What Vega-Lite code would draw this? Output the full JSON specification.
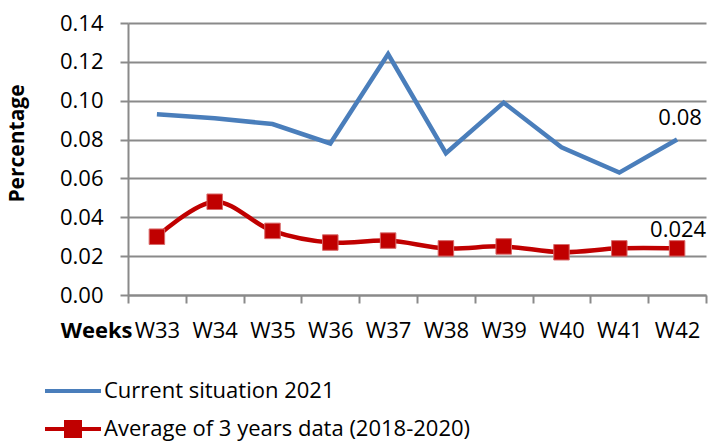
{
  "$schema": "https://vega.github.io/schema/vega-lite/v6.json",
  "autosize": "none",
  "width": 578,
  "height": 272,
  "padding": {"left": 128, "top": 23, "right": 4, "bottom": 148},
  "background": "white",
  "config": {
    "view": {"stroke": null},
    "font": "Open Sans",
    "axis": {
      "labelFont": "Open Sans",
      "labelFontSize": 22,
      "labelColor": "#000000",
      "titleFont": "Open Sans",
      "titleColor": "#000000",
      "domainColor": "#8a8a8a",
      "domainWidth": 2,
      "tickColor": "#8a8a8a",
      "tickWidth": 2,
      "gridColor": "#8a8a8a",
      "gridWidth": 2
    },
    "legend": {
      "title": null,
      "orient": "none",
      "legendX": -77,
      "legendY": 346,
      "padding": 0,
      "labelFont": "Open Sans",
      "labelFontSize": 22,
      "labelColor": "#000000",
      "labelLimit": 0,
      "labelOffset": 9,
      "rowPadding": 5,
      "symbolSize": 1600,
      "symbolStrokeWidth": 4
    }
  },
  "data": {
    "values": [
      {"week": "W33", "series": "Current situation 2021", "value": 0.093},
      {"week": "W34", "series": "Current situation 2021", "value": 0.091},
      {"week": "W35", "series": "Current situation 2021", "value": 0.088},
      {"week": "W36", "series": "Current situation 2021", "value": 0.078},
      {"week": "W37", "series": "Current situation 2021", "value": 0.124},
      {"week": "W38", "series": "Current situation 2021", "value": 0.073},
      {"week": "W39", "series": "Current situation 2021", "value": 0.099},
      {"week": "W40", "series": "Current situation 2021", "value": 0.076},
      {"week": "W41", "series": "Current situation 2021", "value": 0.063},
      {"week": "W42", "series": "Current situation 2021", "value": 0.08},
      {"week": "W33", "series": "Average of 3 years data (2018-2020)", "value": 0.030},
      {"week": "W34", "series": "Average of 3 years data (2018-2020)", "value": 0.048},
      {"week": "W35", "series": "Average of 3 years data (2018-2020)", "value": 0.033},
      {"week": "W36", "series": "Average of 3 years data (2018-2020)", "value": 0.027},
      {"week": "W37", "series": "Average of 3 years data (2018-2020)", "value": 0.028},
      {"week": "W38", "series": "Average of 3 years data (2018-2020)", "value": 0.024},
      {"week": "W39", "series": "Average of 3 years data (2018-2020)", "value": 0.025},
      {"week": "W40", "series": "Average of 3 years data (2018-2020)", "value": 0.022},
      {"week": "W41", "series": "Average of 3 years data (2018-2020)", "value": 0.024},
      {"week": "W42", "series": "Average of 3 years data (2018-2020)", "value": 0.024}
    ]
  },
  "encoding": {
    "x": {
      "field": "week",
      "type": "nominal",
      "bandPosition": 0.5,
      "scale": {"type": "band", "paddingInner": 0, "paddingOuter": 0},
      "axis": {
        "title": "Weeks",
        "titleFontWeight": "bold",
        "titleFontSize": 22,
        "titleAnchor": "start",
        "titleAlign": "right",
        "titleBaseline": "alphabetic",
        "titleX": 4,
        "titleY": 42,
        "labelAngle": 0,
        "tickBand": "extent",
        "tickSize": 8,
        "labelPadding": 17,
        "grid": false
      }
    },
    "y": {
      "field": "value",
      "type": "quantitative",
      "scale": {"domain": [0, 0.14], "nice": false},
      "axis": {
        "title": "Percentage",
        "titleFontWeight": "bold",
        "titleFontSize": 21,
        "titleAngle": 270,
        "titleAlign": "center",
        "titleBaseline": "alphabetic",
        "titleX": -105,
        "titleY": 120,
        "values": [0, 0.02, 0.04, 0.06, 0.08, 0.10, 0.12, 0.14],
        "format": ".2f",
        "tickSize": 8,
        "labelPadding": 17,
        "grid": true
      }
    }
  },
  "layer": [
    {
      "transform": [{"filter": "datum.series === 'Current situation 2021'"}],
      "mark": {"type": "line", "color": "#4a7ebb", "strokeWidth": 4.5, "interpolate": "linear"}
    },
    {
      "transform": [{"filter": "datum.series === 'Average of 3 years data (2018-2020)'"}],
      "mark": {"type": "line", "color": "#c00000", "strokeWidth": 4.5, "interpolate": "catmull-rom"}
    },
    {
      "transform": [{"filter": "datum.series === 'Average of 3 years data (2018-2020)'"}],
      "mark": {"type": "point", "shape": "square", "filled": true, "opacity": 1, "size": 240, "color": "#c00000", "stroke": "#d86a6a", "strokeWidth": 1}
    },
    {
      "transform": [{"filter": "false"}],
      "mark": {"type": "point", "filled": false, "opacity": 1, "strokeWidth": 4, "size": 1600},
      "encoding": {
        "color": {
          "field": "series",
          "type": "nominal",
          "scale": {
            "domain": ["Current situation 2021", "Average of 3 years data (2018-2020)"],
            "range": ["#4a7ebb", "#c00000"]
          }
        },
        "fill": {
          "field": "series",
          "type": "nominal",
          "scale": {
            "domain": ["Current situation 2021", "Average of 3 years data (2018-2020)"],
            "range": ["#4a7ebb", "#c00000"]
          }
        },
        "shape": {
          "field": "series",
          "type": "nominal",
          "scale": {
            "domain": ["Current situation 2021", "Average of 3 years data (2018-2020)"],
            "range": ["M-1.4,0L1.4,0", "M-1.4,0L1.4,0M-0.35,-0.35L0.35,-0.35L0.35,0.35L-0.35,0.35Z"]
          }
        }
      }
    },
    {
      "transform": [{"filter": "datum.series === 'Current situation 2021' && datum.week === 'W42'"}],
      "mark": {"type": "text", "font": "Open Sans", "fontSize": 22, "color": "#000000", "align": "center", "baseline": "middle", "dx": 3, "dy": -22},
      "encoding": {"text": {"field": "value", "type": "quantitative", "format": ".2f"}}
    },
    {
      "transform": [{"filter": "datum.series === 'Average of 3 years data (2018-2020)' && datum.week === 'W42'"}],
      "mark": {"type": "text", "font": "Open Sans", "fontSize": 22, "color": "#000000", "align": "center", "baseline": "middle", "dx": 1, "dy": -18},
      "encoding": {"text": {"field": "value", "type": "quantitative", "format": ".3f"}}
    }
  ]
}
